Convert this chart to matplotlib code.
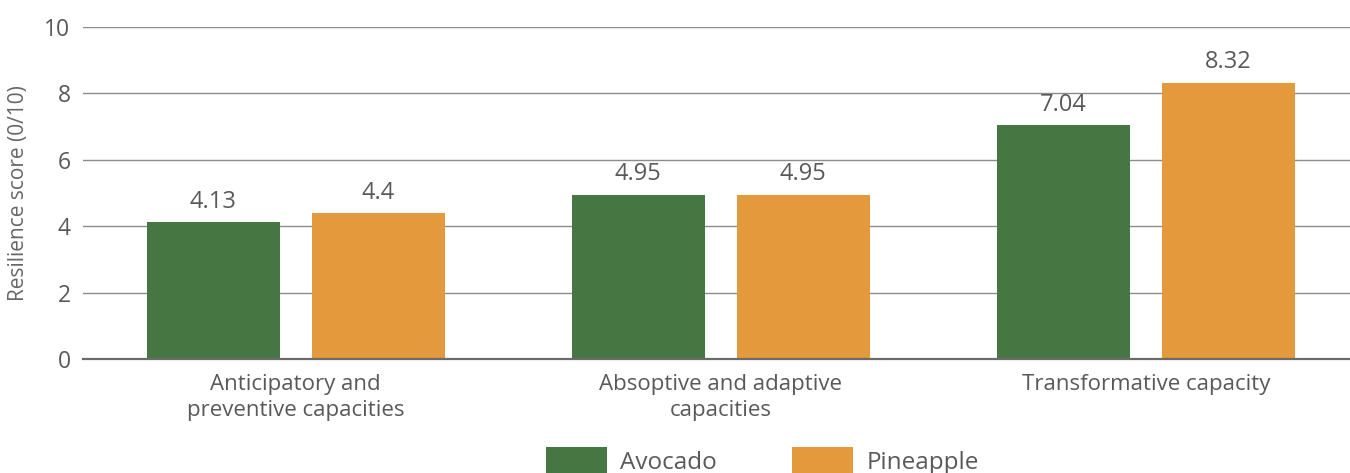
import matplotlib
matplotlib.use('Agg')
import matplotlib.pyplot as plt
import numpy as np

plt.rcParams['font.family'] = ['Open Sans', 'DejaVu Sans']

categories = ['Anticipatory and\npreventive capacities',
              'Absoptive and adaptive\ncapacities',
              'Transformative capacity']
avocado = [4.13, 4.95, 7.04]
pineapple = [4.4, 4.95, 8.32]
avocado_labels = ['4.13', '4.95', '7.04']
pineapple_labels = ['4.4', '4.95', '8.32']

green = '#467642'
orange = '#e5993d'
text_color = '#595959'

fig = plt.figure(figsize=(13.5, 4.73), dpi=100)
ax = fig.add_axes([0.0615, 0.241, 0.9385, 0.702])

x = np.arange(len(categories))
w = 0.313
off = 0.194
b1 = ax.bar(x - off, avocado, w, color=green, label='Avocado', zorder=3)
b2 = ax.bar(x + off, pineapple, w, color=orange, label='Pineapple', zorder=3)

ax.bar_label(b1, labels=avocado_labels, padding=6, fontsize=17, color=text_color)
ax.bar_label(b2, labels=pineapple_labels, padding=6, fontsize=17, color=text_color)

ax.set_ylim(0, 10)
ax.set_yticks([0, 2, 4, 6, 8, 10])
ax.set_xlim(-0.5, 2.48)
ax.set_xticks(x)
ax.set_xticklabels(categories, fontsize=16, color=text_color, linespacing=1.3)
ax.tick_params(axis='y', labelsize=16.5, labelcolor=text_color, length=0, pad=9)
ax.tick_params(axis='x', length=0, pad=11)
ax.set_ylabel('Resilience score (0/10)', fontsize=15, color='#666666', labelpad=11)

ax.yaxis.grid(True, color='#8c8c8c', linewidth=1.0, zorder=0)
for s in ['top', 'right', 'left']:
    ax.spines[s].set_visible(False)
ax.spines['bottom'].set_color('#6b6b6b')
ax.spines['bottom'].set_linewidth(1.6)
ax.spines['bottom'].set_zorder(4)

leg = fig.legend(loc='upper left', bbox_to_anchor=(546 / 1350, 1 - 447 / 473),
                 ncol=2, frameon=False, fontsize=17.5, borderpad=0, borderaxespad=0,
                 handlelength=2.5, handleheight=1.4, handletextpad=0.55,
                 columnspacing=3.1)
for t in leg.get_texts():
    t.set_color(text_color)

fig.savefig('out.png', dpi=100)
